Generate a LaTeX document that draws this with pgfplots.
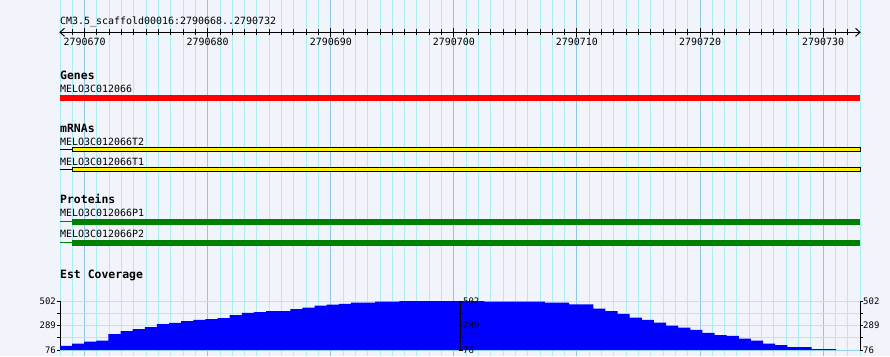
\documentclass[border=0pt]{standalone}
\usepackage{fontspec}
\setmainfont{DejaVu Sans Mono}
\usepackage{pgfplots}
\pgfplotsset{compat=1.18}
\definecolor{bg}{HTML}{F1F4FA}
\definecolor{gridlight}{HTML}{A8EEF2}
\definecolor{griddark}{HTML}{8CC8E8}
\definecolor{ggreen}{HTML}{008000}
\newcommand{\txtf}{\fontsize{10}{12}\selectfont}
\newcommand{\boldf}{\fontsize{11.5}{13}\selectfont\bfseries}
\newcommand{\smallf}{\fontsize{9}{10}\selectfont}
\begin{document}
\begin{tikzpicture}[x=1bp,y=1bp]
\useasboundingbox[fill=bg] (0,0) rectangle (890,356);
% x = position - 2790668 (bp offset), y = pixel row from top
\begin{axis}[at={(60bp,0bp)}, anchor=south west, scale only axis,
  width=800bp, height=356bp, xmin=0, xmax=65, ymin=0, ymax=356, y dir=reverse,
  axis line style={draw=none}, clip=false,
  xtick={2,12,22,32,42,52,62},
  minor xtick={0,1,3,4,5,6,7,8,9,10,11,13,14,15,16,17,18,19,20,21,23,24,25,26,27,28,29,30,31,33,34,35,36,37,38,39,40,41,43,44,45,46,47,48,49,50,51,53,54,55,56,57,58,59,60,61,63,64,65},
  xticklabels={}, ytick=\empty,
  major tick length=0pt, minor tick length=0pt,
  xmajorgrids, xminorgrids,
  major grid style={griddark, line width=1bp},
  minor grid style={gridlight, line width=1bp},
]
% ruler
\node[anchor=base west, inner sep=0pt, font=\txtf] at (axis cs:0,25) {CM3.5\_scaffold00016:2790668..2790732};
\draw[black, line width=1bp] (axis cs:0,32.3) -- (axis cs:65,32.3);
\draw[black, line width=1bp] ([xshift=4.5bp]axis cs:0,28.3) -- (axis cs:0,32.3) -- ([xshift=4.5bp]axis cs:0,36.3);
\draw[black, line width=1bp] ([xshift=-4.5bp]axis cs:65,28.3) -- (axis cs:65,32.3) -- ([xshift=-4.5bp]axis cs:65,36.3);
\pgfplotsinvokeforeach{1,...,64}{\draw[black, line width=1bp] (axis cs:#1,29.3) -- (axis cs:#1,35.3);}
\pgfplotsinvokeforeach{2,12,22,32,42,52,62}{\draw[black, line width=1bp] (axis cs:#1,28) -- (axis cs:#1,37);}
\node[anchor=base, inner sep=0pt, font=\txtf] at (axis cs:2,45.7) {2790670};
\node[anchor=base, inner sep=0pt, font=\txtf] at (axis cs:12,45.7) {2790680};
\node[anchor=base, inner sep=0pt, font=\txtf] at (axis cs:22,45.7) {2790690};
\node[anchor=base, inner sep=0pt, font=\txtf] at (axis cs:32,45.7) {2790700};
\node[anchor=base, inner sep=0pt, font=\txtf] at (axis cs:42,45.7) {2790710};
\node[anchor=base, inner sep=0pt, font=\txtf] at (axis cs:52,45.7) {2790720};
\node[anchor=base, inner sep=0pt, font=\txtf] at (axis cs:62,45.7) {2790730};
% Genes
\node[anchor=base west, inner sep=0pt, font=\boldf] at (axis cs:0,80) {Genes};
\node[anchor=base west, inner sep=0pt, font=\txtf] at (axis cs:0,92) {MELO3C012066};
\addplot[fill=red, draw=none] coordinates {(0,94.7) (65,94.7) (65,100.7) (0,100.7)} -- cycle;
% mRNAs
\node[anchor=base west, inner sep=0pt, font=\boldf] at (axis cs:0,132.7) {mRNAs};
\node[anchor=base west, inner sep=0pt, font=\txtf] at (axis cs:0,145) {MELO3C012066T2};
\addplot[black, line width=1bp] coordinates {(0,149.6) (1,149.6)};
\addplot[fill=yellow, draw=black, line width=1bp] coordinates {(1,147.8) (65,147.8) (65,151.8) (1,151.8)} -- cycle;
\node[anchor=base west, inner sep=0pt, font=\txtf] at (axis cs:0,165) {MELO3C012066T1};
\addplot[black, line width=1bp] coordinates {(0,169.5) (1,169.5)};
\addplot[fill=yellow, draw=black, line width=1bp] coordinates {(1,167.8) (65,167.8) (65,171.6) (1,171.6)} -- cycle;
% Proteins
\node[anchor=base west, inner sep=0pt, font=\boldf] at (axis cs:0,203.3) {Proteins};
\node[anchor=base west, inner sep=0pt, font=\txtf] at (axis cs:0,216.7) {MELO3C012066P1};
\addplot[ggreen, line width=1bp] coordinates {(0,221.5) (1,221.5)};
\addplot[fill=ggreen, draw=none] coordinates {(1,219) (65,219) (65,224.7) (1,224.7)} -- cycle;
\node[anchor=base west, inner sep=0pt, font=\txtf] at (axis cs:0,237.3) {MELO3C012066P2};
\addplot[ggreen, line width=1bp] coordinates {(0,242.5) (1,242.5)};
\addplot[fill=ggreen, draw=none] coordinates {(1,240) (65,240) (65,245.7) (1,245.7)} -- cycle;
% Est coverage title
\node[anchor=base west, inner sep=0pt, font=\boldf] at (axis cs:0,278.3) {Est Coverage};
\end{axis}
% coverage histogram: 66 bins across the view
\begin{axis}[at={(60bp,6bp)}, anchor=south west, scale only axis,
  width=800bp, height=49bp, xmin=0, xmax=66, ymin=76, ymax=502,
  axis x line=none, axis y line*=left, axis line style={-, black, line width=1bp},
  clip=false, xtick=\empty,
  ytick={76,289,502}, minor ytick={182.5,395.5},
  tick align=outside, major tick length=3bp, minor tick length=3bp,
  tick style={black, line width=1bp},
  ymajorgrids, yminorgrids,
  major grid style={gridlight, line width=1bp},
  minor grid style={gridlight, line width=1bp},
  yticklabel style={font=\smallf, inner sep=1bp},
  /pgf/number format/assume math mode=true,
]
\addplot[const plot mark left, fill=blue, draw=none] coordinates {
(0,76) (0,111) (1,131) (2,148) (3,157) (4,215) (5,241) (6,258) (7,276) (8,302) (9,311)
(10,328) (11,337) (12,345) (13,354) (14,380) (15,398) (16,406) (17,415) (18,415) (19,432)
(20,444) (21,461) (22,470) (23,478) (24,487) (25,487) (26,496) (27,496) (28,502) (29,502)
(30,502) (31,502) (32,502) (33,502) (34,502) (35,496) (36,496) (37,496) (38,496) (39,496)
(40,487) (41,487) (42,473) (43,473) (44,435) (45,415) (46,391) (47,357) (48,337) (49,313)
(50,287) (51,270) (52,252) (53,226) (54,206) (55,198) (56,174) (57,157) (58,131) (59,119)
(60,102) (61,102) (62,84) (63,84) (64,76) (65,76) (66,76)} -- cycle;
% middle and right scales
\draw[black, line width=1bp] (axis cs:33.08,76) -- (axis cs:33.08,502);
\draw[black, line width=1bp] (axis cs:66,76) -- (axis cs:66,502);
\pgfplotsinvokeforeach{76,182.5,289,395.5,502}{
  \draw[black, line width=1bp] ([xshift=-2bp]axis cs:33.08,#1) -- ([xshift=2bp]axis cs:33.08,#1);
  \draw[black, line width=1bp] (axis cs:66,#1) -- ([xshift=3bp]axis cs:66,#1);
}
\node[anchor=west, inner sep=0pt, font=\smallf] at ([xshift=2bp]axis cs:33.08,502) {502};
\node[anchor=west, inner sep=0pt, font=\smallf] at ([xshift=2bp]axis cs:33.08,289) {289};
\node[anchor=west, inner sep=0pt, font=\smallf] at ([xshift=2bp]axis cs:33.08,76) {76};
\node[anchor=west, inner sep=0pt, font=\smallf] at ([xshift=3bp]axis cs:66,502) {502};
\node[anchor=west, inner sep=0pt, font=\smallf] at ([xshift=3bp]axis cs:66,289) {289};
\node[anchor=west, inner sep=0pt, font=\smallf] at ([xshift=3bp]axis cs:66,76) {76};
\end{axis}
\end{tikzpicture}
\end{document}
